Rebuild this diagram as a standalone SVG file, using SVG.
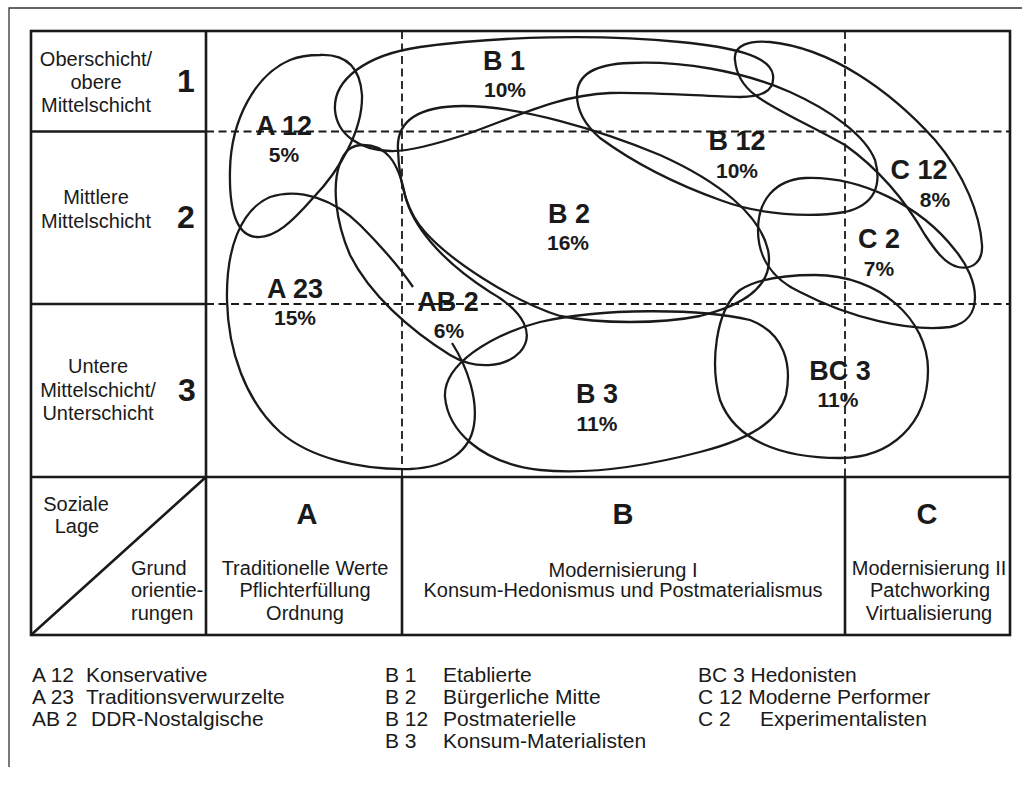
<svg xmlns="http://www.w3.org/2000/svg" width="1022" height="785" viewBox="0 0 1022 785">
<style>
.frame{fill:none;stroke:#333;stroke-width:1.3}
.grid{fill:none;stroke:#1a1a1a;stroke-width:2.6}
.dash{fill:none;stroke:#1a1a1a;stroke-width:1.8;stroke-dasharray:8 4.5}
.blob{fill:none;stroke:#1a1a1a;stroke-width:2.3;stroke-linejoin:round}
.t{font-family:"Liberation Sans",Arial,sans-serif;font-size:20px;fill:#1a1a1a;text-anchor:middle}
.tl{font-family:"Liberation Sans",Arial,sans-serif;font-size:20px;fill:#1a1a1a}
.num{font-family:"Liberation Sans",Arial,sans-serif;font-size:32px;font-weight:bold;fill:#1a1a1a;text-anchor:middle}
.col{font-family:"Liberation Sans",Arial,sans-serif;font-size:29px;font-weight:bold;fill:#1a1a1a;text-anchor:middle}
.lab{font-family:"Liberation Sans",Arial,sans-serif;font-size:27px;font-weight:bold;fill:#1a1a1a;text-anchor:middle}
.pct{font-family:"Liberation Sans",Arial,sans-serif;font-size:21px;font-weight:bold;fill:#1a1a1a;text-anchor:middle}
.leg{font-family:"Liberation Sans",Arial,sans-serif;font-size:21px;fill:#1a1a1a}
</style>
<rect width="1022" height="785" fill="#fff"/>
<g id="frame">
<path class="frame" d="M9,767 V8 H1022"/>
</g>
<g id="connectors">
<path class="dash" d="M206,131.5 H1010 M206,304 H1010 M402,31 V477 M845,31 V477"/>
<rect class="grid" x="31" y="31" width="979" height="604"/>
<path class="grid" d="M206,31 V635 M31,131.5 H206 M31,304 H206 M31,477 H1010 M402,477 V635 M845,477 V635 M31,635 L206,477"/>
</g>
<g id="row1">
<text class="t" x="96" y="66">Oberschicht/</text>
<text class="t" x="96" y="89">obere</text>
<text class="t" x="96" y="112">Mittelschicht</text>
<text class="num" x="186" y="92">1</text>
</g>
<g id="row2">
<text class="t" x="96" y="204">Mittlere</text>
<text class="t" x="96" y="228">Mittelschicht</text>
<text class="num" x="186" y="228">2</text>
</g>
<g id="row3">
<text class="t" x="98" y="373">Untere</text>
<text class="t" x="98" y="397">Mittelschicht/</text>
<text class="t" x="98" y="420">Unterschicht</text>
<text class="num" x="187" y="401">3</text>
</g>
<g id="corner">
<text class="t" x="76" y="511">Soziale</text>
<text class="t" x="77" y="533">Lage</text>
<text class="tl" x="131" y="575">Grund</text>
<text class="tl" x="131" y="597">orientie-</text>
<text class="tl" x="131" y="620">rungen</text>
</g>
<g id="colA">
<text class="col" x="307" y="524">A</text>
<text class="t" x="305" y="575">Traditionelle Werte</text>
<text class="t" x="305" y="597">Pflichterfüllung</text>
<text class="t" x="305" y="620">Ordnung</text>
</g>
<g id="colB">
<text class="col" x="623" y="524">B</text>
<text class="t" x="623" y="577">Modernisierung I</text>
<text class="t" x="623" y="597">Konsum-Hedonismus und Postmaterialismus</text>
</g>
<g id="colC">
<text class="col" x="927" y="524">C</text>
<text class="t" x="929" y="575">Modernisierung II</text>
<text class="t" x="930" y="597">Patchworking</text>
<text class="t" x="929" y="620">Virtualisierung</text>
</g>
<g id="A12">
<path class="blob" d="M320,55 C345,54 360,66 362,95 C363,130 340,170 313,198 C292,222 275,238 257,237 C236,236 229,210 230,170 C231,120 255,75 290,60 C300,56 310,55 320,55 Z"/>
<text class="lab" x="284" y="135">A 12</text>
<text class="pct" x="284" y="162">5%</text>
</g>
<g id="A23">
<path class="blob" d="M452,343 C468,368 478,400 474,425 C470,450 450,467 410,469 C360,470 310,458 280,432 C245,400 228,350 227,300 C226,250 240,210 270,197 C300,187 335,200 360,225 C380,245 400,268 413,287"/>
<text class="lab" x="295" y="298">A 23</text>
<text class="pct" x="295" y="325">15%</text>
</g>
<g id="AB2">
<path class="blob" d="M363,145 C385,145 398,160 405,195 C412,225 440,260 490,292 C525,312 535,335 520,352 C505,368 475,370 450,355 C410,330 370,295 350,255 C335,220 332,185 340,163 C345,150 352,145 363,145 Z"/>
<text class="lab" x="448" y="311">AB 2</text>
<text class="pct" x="449" y="338">6%</text>
</g>
<g id="B1">
<path class="blob" d="M335,110 C333,80 365,55 420,47 C500,36 600,34 680,42 C730,47 770,55 773,75 C775,92 760,97 740,97 C700,96 650,92 610,93 C560,95 520,115 470,133 C440,143 410,152 390,151 C360,150 337,135 335,110 Z"/>
<text class="lab" x="504" y="70">B 1</text>
<text class="pct" x="505" y="97">10%</text>
</g>
<g id="B2">
<path class="blob" d="M398,150 C396,120 420,106 463,106 C520,106 600,130 660,155 C720,182 760,215 768,250 C775,285 745,305 700,316 C660,324 600,324 560,316 C510,300 450,260 425,232 C405,210 399,180 398,150 Z"/>
<text class="lab" x="569" y="223">B 2</text>
<text class="pct" x="568" y="250">16%</text>
</g>
<g id="B12">
<path class="blob" d="M577,95 C577,75 595,64 630,63 C680,61 740,70 790,92 C830,110 865,135 875,160 C882,185 875,205 845,212 C810,218 760,215 720,200 C670,182 630,160 600,138 C585,125 577,110 577,95 Z"/>
<text class="lab" x="737" y="150">B 12</text>
<text class="pct" x="737" y="178">10%</text>
</g>
<g id="C12">
<path class="blob" d="M735,60 C733,45 750,40 770,42 C830,48 890,90 935,140 C965,175 980,215 982,245 C983,262 972,270 958,267 C945,264 935,250 925,235 C905,200 880,170 845,145 C810,125 775,110 755,95 C742,85 736,72 735,60 Z"/>
<text class="lab" x="919" y="179">C 12</text>
<text class="pct" x="935" y="207">8%</text>
</g>
<g id="C2">
<path class="blob" d="M805,178 C860,176 920,205 955,250 C980,280 985,320 950,327 C910,332 850,318 800,292 C770,278 758,255 758,230 C758,200 775,180 805,178 Z"/>
<text class="lab" x="879" y="248">C 2</text>
<text class="pct" x="879" y="276">7%</text>
</g>
<g id="B3">
<path class="blob" d="M445,397 C443,365 490,335 540,322 C600,308 700,308 750,320 C785,333 792,365 786,395 C778,425 740,442 700,452 C650,465 590,475 540,470 C480,463 448,430 445,397 Z"/>
<text class="lab" x="597" y="403">B 3</text>
<text class="pct" x="597" y="431">11%</text>
</g>
<g id="BC3">
<path class="blob" d="M815,275 C880,275 928,320 928,370 C928,425 890,458 840,458 C780,458 735,440 720,400 C710,365 715,310 740,290 C758,278 785,275 815,275 Z"/>
<text class="lab" x="840" y="380">BC 3</text>
<text class="pct" x="838" y="407">11%</text>
</g>
<g id="legend">
<text class="leg" x="32" y="682">A 12</text><text class="leg" x="86" y="682">Konservative</text>
<text class="leg" x="32" y="704">A 23</text><text class="leg" x="86" y="704">Traditionsverwurzelte</text>
<text class="leg" x="32" y="726">AB 2</text><text class="leg" x="91" y="726">DDR-Nostalgische</text>
<text class="leg" x="385" y="682">B 1</text><text class="leg" x="443" y="682">Etablierte</text>
<text class="leg" x="385" y="704">B 2</text><text class="leg" x="443" y="704">Bürgerliche Mitte</text>
<text class="leg" x="385" y="726">B 12</text><text class="leg" x="443" y="726">Postmaterielle</text>
<text class="leg" x="385" y="748">B 3</text><text class="leg" x="443" y="748">Konsum-Materialisten</text>
<text class="leg" x="698" y="682">BC 3 Hedonisten</text>
<text class="leg" x="698" y="704">C 12 Moderne Performer</text>
<text class="leg" x="698" y="726">C 2</text><text class="leg" x="760" y="726">Experimentalisten</text>
</g>
</svg>
